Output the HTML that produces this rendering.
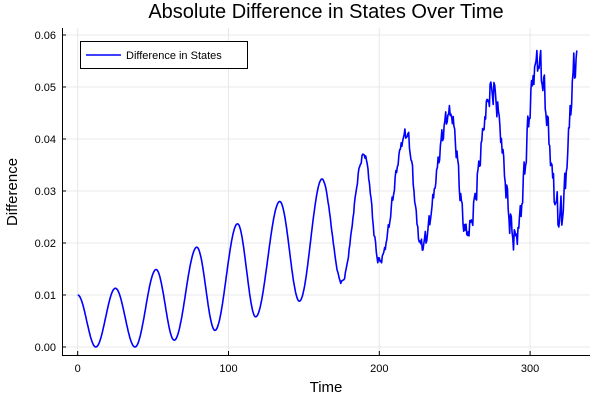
<!DOCTYPE html>
<html><head><meta charset="utf-8"><style>
body{margin:0;background:#fff}
svg{font-family:"Liberation Sans",sans-serif}
</style></head><body>
<svg id="s" width="600" height="400" xmlns="http://www.w3.org/2000/svg">
<rect width="600" height="400" fill="#fff"/>
<g stroke="#e8e8e8" stroke-width="1">
<line x1="77.7" y1="28" x2="77.7" y2="355"/><line x1="228.5" y1="28" x2="228.5" y2="355"/>
<line x1="379.3" y1="28" x2="379.3" y2="355"/><line x1="530.1" y1="28" x2="530.1" y2="355"/>
<line x1="62" y1="347" x2="590" y2="347"/><line x1="62" y1="295" x2="590" y2="295"/>
<line x1="62" y1="243" x2="590" y2="243"/><line x1="62" y1="191" x2="590" y2="191"/>
<line x1="62" y1="139" x2="590" y2="139"/><line x1="62" y1="87" x2="590" y2="87"/>
<line x1="62" y1="35" x2="590" y2="35"/>
</g>
<g stroke="#000" stroke-width="1">
<line x1="62" y1="355.5" x2="590" y2="355.5"/><line x1="62.5" y1="28" x2="62.5" y2="356"/>
<line x1="77.7" y1="355" x2="77.7" y2="351"/><line x1="228.5" y1="355" x2="228.5" y2="351"/>
<line x1="379.3" y1="355" x2="379.3" y2="351"/><line x1="530.1" y1="355" x2="530.1" y2="351"/>
<line x1="62" y1="347" x2="66" y2="347"/><line x1="62" y1="295" x2="66" y2="295"/>
<line x1="62" y1="243" x2="66" y2="243"/><line x1="62" y1="191" x2="66" y2="191"/>
<line x1="62" y1="139" x2="66" y2="139"/><line x1="62" y1="87" x2="66" y2="87"/>
<line x1="62" y1="35" x2="66" y2="35"/>
</g>
<g font-size="11" fill="#000" text-anchor="middle">
<text x="77.7" y="372">0</text><text x="228.5" y="372">100</text>
<text x="379.3" y="372">200</text><text x="530.1" y="372">300</text>
</g>
<g font-size="11" fill="#000" text-anchor="end">
<text x="56" y="351">0.00</text><text x="56" y="299">0.01</text><text x="56" y="247">0.02</text>
<text x="56" y="195">0.03</text><text x="56" y="143">0.04</text><text x="56" y="91">0.05</text>
<text x="56" y="39">0.06</text>
</g>
<text x="326" y="392" font-size="15" text-anchor="middle">Time</text>
<text transform="translate(17,192) rotate(-90)" font-size="15" text-anchor="middle">Difference</text>
<text x="326" y="18" font-size="20" text-anchor="middle">Absolute Difference in States Over Time</text>
<polyline id="p" fill="none" stroke="#0000ff" stroke-width="1.6" stroke-linejoin="round"/>
<rect x="80.5" y="41.5" width="167" height="27" fill="#fff" stroke="#000" stroke-width="1"/>
<line x1="86" y1="55" x2="121" y2="55" stroke="#0000ff" stroke-width="1.6"/>
<text x="126" y="59" font-size="11">Difference in States</text>
</svg>
<script>
var E=[[0,0.01],[12,0],[25,0.0113],[38,0],[52,0.0149],[64,0.0013],[79,0.0192],[91,0.0032],[106,0.0237],[118,0.0058],[134,0.028],[147,0.0088],[162,0.0323],[175,0.0125],[190,0.037],[200,0.0165],[218,0.041],[228,0.0195],[247,0.045],[258,0.022],[275,0.0495],[290,0.021],[305,0.055],[320,0.025],[331,0.0555]];
function base(t){for(var i=0;i<E.length-1;i++){if(t<=E[i+1][0]){var a=E[i],b=E[i+1],f=(t-a[0])/(b[0]-a[0]);var s=(1-Math.cos(Math.PI*f))/2;if(b[1]===0||a[1]===0){s=f<0.5?(b[1]===0?Math.sin(Math.PI*f):2*f*f):s;s=(1-Math.cos(Math.PI*f))/2;}return a[1]+(b[1]-a[1])*s;}}return E[E.length-1][1];}
var pts=[];
for(var t=0;t<=331;t+=0.5){
 var v=base(t);
 if(t>160){var k=Math.min(1,(t-160)/170);v+=k*0.0035*(Math.sin(t*2.3)+0.7*Math.sin(t*5.1+1)+0.5*Math.sin(t*9.7+2))/1.6;}
 v=Math.abs(v);
 pts.push((77.7+1.508*t).toFixed(1)+","+(347-v*5200).toFixed(1));
}
document.getElementById("p").setAttribute("points",pts.join(" "));
</script>
</body></html>
